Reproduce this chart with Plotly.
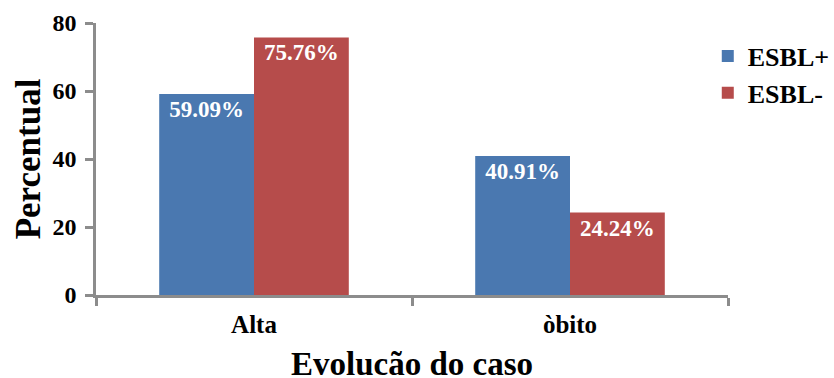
import plotly.graph_objects as go

categories = ["Alta", "òbito"]
esbl_pos = [59.09, 40.91]
esbl_neg = [75.76, 24.24]
series_names = ["ESBL+", "ESBL-"]
y_ticks = [0, 20, 40, 60, 80]
x_title = "Evolucão do caso"
y_title = "Percentual"

FONT = "Liberation Serif"
AXIS_GREY = "#8c8c8c"

fig = go.Figure()
for name, vals, color in [
    (series_names[0], esbl_pos, "#4a78b0"),
    (series_names[1], esbl_neg, "#b64c4b"),
]:
    fig.add_trace(go.Bar(
        x=categories, y=vals, name=name,
        marker=dict(color=color, line=dict(width=0)),
        text=[f"{v:.2f}%" for v in vals],
        textposition="inside", insidetextanchor="end",
        textangle=0,
        textfont=dict(family=FONT, size=23, color="white", weight="bold"),
        cliponaxis=False,
    ))

# x-axis title sits low near the bottom edge, so it is placed as an annotation
fig.add_annotation(
    text=x_title, xref="paper", yref="paper", x=0.5, y=0,
    xanchor="center", yanchor="top", yshift=-49, showarrow=False,
    font=dict(family=FONT, size=33, color="black", weight="bold"),
)

fig.update_layout(
    width=834, height=378,
    margin=dict(l=96, r=106, t=23, b=83, autoexpand=False),
    paper_bgcolor="white", plot_bgcolor="white",
    barmode="group", bargap=0.40, bargroupgap=0,
    font=dict(family=FONT, color="black"),
    showlegend=True,
    legend=dict(
        x=0.968, xanchor="left", y=0.965, yanchor="top",
        font=dict(family=FONT, size=26, color="black", weight="bold"),
        tracegroupgap=0, itemwidth=30,
    ),
    xaxis=dict(
        showline=True, linecolor=AXIS_GREY, linewidth=2.5,
        ticks="outside", tickson="boundaries", ticklen=8, tickwidth=2.5,
        tickcolor=AXIS_GREY, ticklabelstandoff=5,
        tickfont=dict(family=FONT, size=25, color="black", weight="bold"),
        showgrid=False, zeroline=False,
    ),
    yaxis=dict(
        range=[0, 80], tickvals=y_ticks,
        showline=True, linecolor=AXIS_GREY, linewidth=2.5,
        ticks="outside", ticklen=8, tickwidth=2.5, tickcolor=AXIS_GREY,
        ticklabelstandoff=4,
        tickfont=dict(family=FONT, size=24, color="black", weight="bold"),
        showgrid=False, zeroline=False,
        title=dict(text=y_title, standoff=2,
                   font=dict(family=FONT, size=35, color="black", weight="bold")),
    ),
)

fig.write_html("out.html")
